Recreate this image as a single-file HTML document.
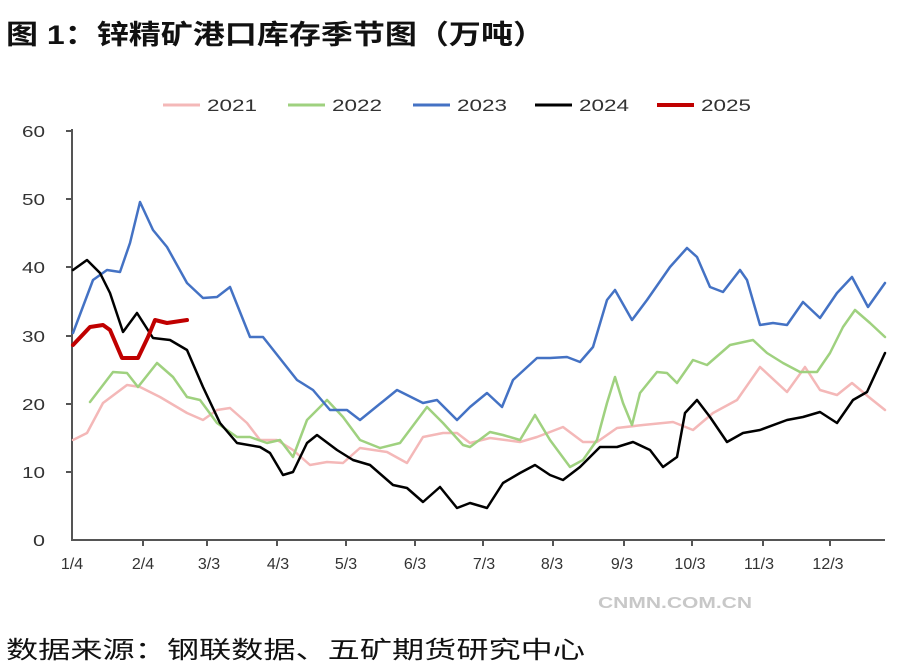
<!DOCTYPE html>
<html><head><meta charset="utf-8"><style>
html,body{margin:0;padding:0;background:#fff;}
body{width:900px;height:668px;overflow:hidden;position:relative;font-family:"Liberation Sans","Noto Sans CJK SC",sans-serif;}
</style></head><body>
<svg width="900" height="668" xmlns="http://www.w3.org/2000/svg" style="position:absolute;left:0;top:0">
<text x="6" y="44" font-size="27" font-weight="bold" textLength="539" lengthAdjust="spacingAndGlyphs" font-family="Liberation Sans,'Noto Sans CJK SC',sans-serif" fill="#111">图 1：锌精矿港口库存季节图（万吨）</text>
<g font-size="17" font-family="Liberation Sans,sans-serif" fill="#333">
<line x1="163" y1="105" x2="200" y2="105" stroke="#f4b8b8" stroke-width="3"/><text x="207" y="111" textLength="50" lengthAdjust="spacingAndGlyphs">2021</text>
<line x1="288" y1="105" x2="325" y2="105" stroke="#9fd17f" stroke-width="3"/><text x="332" y="111" textLength="50" lengthAdjust="spacingAndGlyphs">2022</text>
<line x1="413" y1="105" x2="450" y2="105" stroke="#4472c4" stroke-width="3"/><text x="457" y="111" textLength="50" lengthAdjust="spacingAndGlyphs">2023</text>
<line x1="535" y1="105" x2="572" y2="105" stroke="#000" stroke-width="3"/><text x="579" y="111" textLength="50" lengthAdjust="spacingAndGlyphs">2024</text>
<line x1="657" y1="105" x2="694" y2="105" stroke="#c00000" stroke-width="4"/><text x="701" y="111" textLength="50" lengthAdjust="spacingAndGlyphs">2025</text>
</g>
<g font-size="16" font-family="Liberation Sans,sans-serif" fill="#333">
<text x="22" y="137" textLength="23" lengthAdjust="spacingAndGlyphs">60</text><text x="22" y="205" textLength="23" lengthAdjust="spacingAndGlyphs">50</text><text x="22" y="273" textLength="23" lengthAdjust="spacingAndGlyphs">40</text><text x="22" y="342" textLength="23" lengthAdjust="spacingAndGlyphs">30</text><text x="22" y="410" textLength="23" lengthAdjust="spacingAndGlyphs">20</text><text x="22" y="478" textLength="23" lengthAdjust="spacingAndGlyphs">10</text><text x="33" y="546" textLength="12" lengthAdjust="spacingAndGlyphs">0</text>
</g>
<g stroke="#555" stroke-width="2">
<line x1="72" y1="129" x2="72" y2="541"/><line x1="71" y1="540" x2="885" y2="540"/>
<line x1="66" y1="131" x2="72" y2="131"/><line x1="66" y1="199" x2="72" y2="199"/><line x1="66" y1="267" x2="72" y2="267"/><line x1="66" y1="336" x2="72" y2="336"/><line x1="66" y1="404" x2="72" y2="404"/><line x1="66" y1="472" x2="72" y2="472"/>
<line x1="143" y1="540" x2="143" y2="546"/><line x1="207" y1="540" x2="207" y2="546"/><line x1="277" y1="540" x2="277" y2="546"/><line x1="346" y1="540" x2="346" y2="546"/><line x1="415" y1="540" x2="415" y2="546"/><line x1="483" y1="540" x2="483" y2="546"/><line x1="553" y1="540" x2="553" y2="546"/><line x1="624" y1="540" x2="624" y2="546"/><line x1="692" y1="540" x2="692" y2="546"/><line x1="763" y1="540" x2="763" y2="546"/><line x1="830" y1="540" x2="830" y2="546"/>
</g>
<g font-size="16" font-family="Liberation Sans,sans-serif" fill="#333" text-anchor="middle">
<text x="72" y="569">1/4</text><text x="143" y="569">2/4</text><text x="209" y="569">3/3</text><text x="278" y="569">4/3</text><text x="346" y="569">5/3</text><text x="415" y="569">6/3</text><text x="484" y="569">7/3</text><text x="552" y="569">8/3</text><text x="622" y="569">9/3</text><text x="690" y="569">10/3</text><text x="759" y="569">11/3</text><text x="828" y="569">12/3</text>
</g>
<g fill="none" stroke-linejoin="round" stroke-linecap="round">
<polyline stroke="#f4b8b8" stroke-width="2.5" points="73,440 87,433 103,403 127,385 140,387 160,397 187,413 203,420 217,410 230,408 247,423 260,440 277,440 293,450 310,465 327,462 343,463 360,448 387,452 407,463 423,437 443,433 457,433 470,443 490,438 520,442 537,437 563,427 583,442 597,442 617,428 643,425 673,422 693,430 713,413 737,400 760,367 787,392 805,367 820,390 837,395 852,383 870,398 885,410"/>
<polyline stroke="#9fd17f" stroke-width="2.5" points="90,402 113,372 127,373 138,387 157,363 173,377 187,397 200,400 217,423 237,437 250,437 267,443 280,440 293,457 307,420 327,400 343,417 360,440 380,448 400,443 427,407 443,423 463,445 470,447 490,432 503,435 520,440 535,415 550,440 570,467 583,460 597,440 607,403 615,377 623,403 632,425 640,393 657,372 667,373 677,383 693,360 707,365 730,345 753,340 767,353 783,363 800,372 817,372 830,353 843,327 855,310 870,323 885,337"/>
<polyline stroke="#4472c4" stroke-width="2.5" points="73,333 93,280 107,270 120,272 130,243 140,202 153,230 167,247 187,283 203,298 217,297 230,287 250,337 263,337 297,380 313,390 330,410 347,410 360,420 397,390 423,403 437,400 457,420 470,407 487,393 502,407 513,380 537,358 550,358 567,357 580,362 593,347 607,300 615,290 632,320 647,300 670,267 687,248 697,257 710,287 723,292 740,270 747,280 760,325 773,323 787,325 803,302 820,318 837,293 852,277 868,307 885,283"/>
<polyline stroke="#000" stroke-width="2.5" points="73,270 87,260 100,273 110,293 123,332 137,313 153,338 170,340 187,350 203,387 220,423 237,443 260,447 270,453 283,475 293,472 307,443 317,435 337,450 353,460 370,465 393,485 407,488 423,502 440,487 457,508 470,503 487,508 503,483 520,473 535,465 550,475 563,480 580,467 600,447 617,447 633,442 650,450 663,467 677,457 685,413 697,400 710,417 727,442 743,433 760,430 787,420 803,417 820,412 837,423 853,400 867,392 885,353"/>
<polyline stroke="#c00000" stroke-width="4" points="73,345 90,327 103,325 110,330 122,358 138,358 148,337 155,320 167,323 187,320"/>
</g>
<text x="598" y="608" font-size="16" font-weight="bold" textLength="154" lengthAdjust="spacingAndGlyphs" font-family="Liberation Sans,sans-serif" fill="#c8c8c8">CNMN.COM.CN</text>
<text x="6" y="658" font-size="24" textLength="579" lengthAdjust="spacingAndGlyphs" font-family="Liberation Sans,'Noto Sans CJK SC',sans-serif" fill="#111">数据来源：钢联数据、五矿期货研究中心</text>
</svg>
</body></html>
